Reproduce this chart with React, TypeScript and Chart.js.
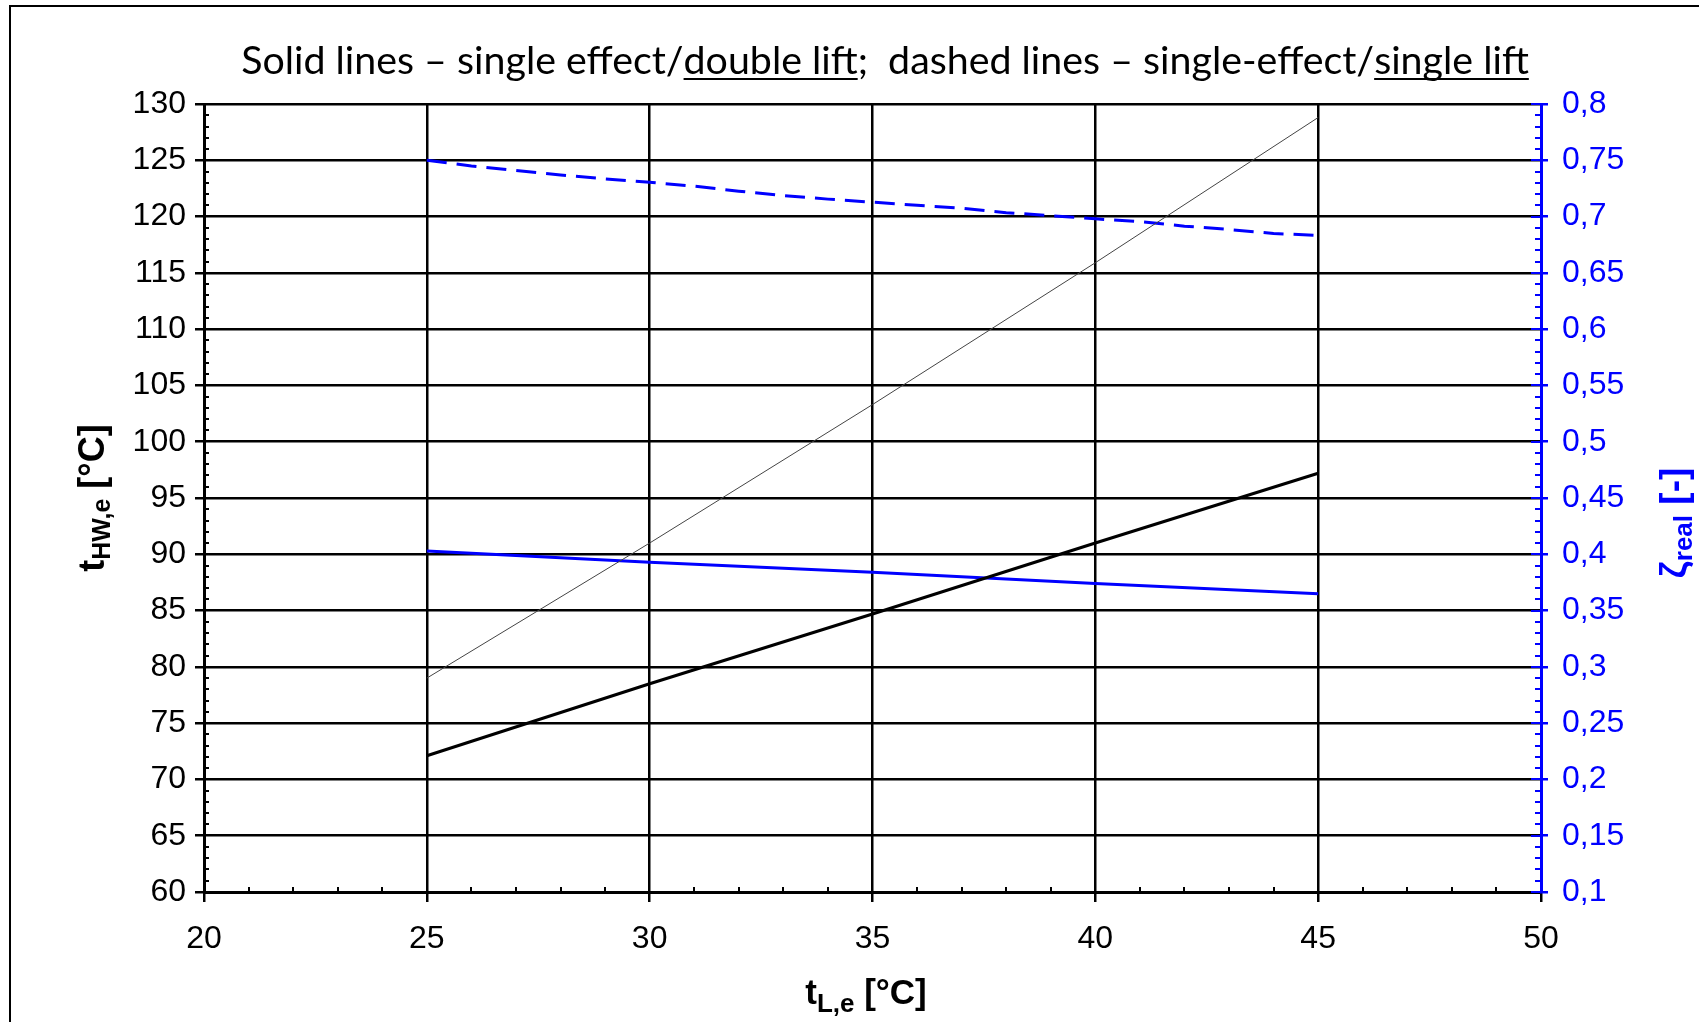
import React, { useEffect, useRef } from "react";
import { Chart, registerables } from "chart.js";

Chart.register(...registerables);

const BLUE = "#0000ff";
const TICK_FONT = "'Liberation Sans', Arial, sans-serif";

// Axis ranges / tick steps
const xAxisRange = [20, 50];
const xAxisStep = 5;
const tempAxisRange = [60, 130];
const tempAxisStep = 5;
const zetaAxisRange = [0.1, 0.8];
const zetaAxisStep = 0.05;

// Evaporator temperature t_L,e [°C]
const tLe = [25, 30, 35, 40, 45];
// Driving heat temperature t_HW,e [°C]
const tHWDoubleLift = [72.1, 78.5, 84.7, 91.0, 97.2];
const tHWSingleLift = [79.0, 91.0, 103.3, 115.9, 128.8];
// Real efficiency zeta_real [-]
const zetaDoubleLift = [0.403, 0.393, 0.384, 0.374, 0.365];
const tLeFine = [25, 26, 27, 28, 29, 30, 31, 32, 33, 34, 35, 36, 37, 38, 39, 40, 41, 42, 43, 44, 45];
const zetaSingleLift = [
  0.75, 0.745, 0.741, 0.737, 0.7335, 0.7305, 0.727, 0.7225, 0.7187, 0.7155, 0.7128,
  0.71, 0.7075, 0.7035, 0.7008, 0.698, 0.6955, 0.6915, 0.6885, 0.685, 0.6832,
];

// Title pieces: [text, underlined]
const titleParts: [string, boolean][] = [
  ["Solid lines \u2013 single effect/", false],
  ["double lift", true],
  [";  dashed lines \u2013 single-effect/", false],
  ["single lift", true],
];

type RichPart = { text: string; size: number; dy: number };
const leftAxisTitle: RichPart[] = [
  { text: "t", size: 36, dy: 0 },
  { text: "HW,e", size: 25, dy: 6 },
  { text: " [\u00b0C]", size: 36, dy: 0 },
];
const bottomAxisTitle: RichPart[] = [
  { text: "t", size: 35, dy: 0 },
  { text: "L,e", size: 26, dy: 8 },
  { text: " [\u00b0C]", size: 35, dy: 0 },
];
const rightAxisTitle: RichPart[] = [
  { text: "\u03b6", size: 37, dy: 0 },
  { text: "real", size: 26, dy: 6 },
  { text: " [-]", size: 37, dy: 0 },
];

function toPoints(xs: number[], ys: number[]) {
  return xs.map((x, i) => ({ x, y: ys[i] }));
}

function drawRich(
  ctx: CanvasRenderingContext2D,
  parts: RichPart[],
  color: string,
  cx: number,
  cy: number,
  rotated: boolean
) {
  ctx.save();
  ctx.fillStyle = color;
  ctx.textBaseline = "alphabetic";
  ctx.textAlign = "left";
  let total = 0;
  const widths = parts.map((p) => {
    ctx.font = `bold ${p.size}px ${TICK_FONT}`;
    const w = ctx.measureText(p.text).width;
    total += w;
    return w;
  });
  ctx.translate(cx, cy);
  if (rotated) ctx.rotate(-Math.PI / 2);
  let x = -total / 2;
  parts.forEach((p, i) => {
    ctx.font = `bold ${p.size}px ${TICK_FONT}`;
    ctx.fillText(p.text, x, p.dy);
    x += widths[i];
  });
  ctx.restore();
}

const decorPlugin = {
  id: "decor",
  afterDraw(chart: any) {
    const ctx: CanvasRenderingContext2D = chart.ctx;
    const xs = chart.scales.x;
    const ys = chart.scales.y;
    const y1 = chart.scales.y1;
    const area = chart.chartArea;
    ctx.save();
    // minor ticks, black axes (inside)
    ctx.strokeStyle = "#000";
    ctx.lineWidth = 2;
    ctx.beginPath();
    for (let v = xAxisRange[0] + 1; v < xAxisRange[1]; v++) {
      if (v % 5 === 0) continue;
      const px = Math.round(xs.getPixelForValue(v));
      ctx.moveTo(px, area.bottom);
      ctx.lineTo(px, area.bottom - 5);
    }
    for (let v = tempAxisRange[0] + 1; v < tempAxisRange[1]; v++) {
      if (v % 5 === 0) continue;
      const py = Math.round(ys.getPixelForValue(v));
      ctx.moveTo(area.left, py);
      ctx.lineTo(area.left + 5, py);
    }
    ctx.stroke();
    // right axis minor ticks + inner part of major ticks
    ctx.strokeStyle = BLUE;
    ctx.beginPath();
    for (let i = 10; i <= 80; i++) {
      const py = Math.round(y1.getPixelForValue(i / 100));
      const len = i % 5 === 0 ? 10 : 6;
      ctx.moveTo(area.right - len, py);
      ctx.lineTo(area.right, py);
    }
    ctx.stroke();

    // chart title with underlined parts
    const targetWidth = 1288;
    const family = "Lato, 'Open Sans', sans-serif";
    ctx.font = `40px ${family}`;
    const w0 = titleParts.reduce((s, p) => s + ctx.measureText(p[0]).width, 0);
    const size = (40 * targetWidth) / w0;
    ctx.font = `${size}px ${family}`;
    const widths = titleParts.map((p) => ctx.measureText(p[0]).width);
    const total = widths.reduce((a, b) => a + b, 0);
    const cx = 885;
    const baseline = 74;
    let x = cx - total / 2;
    ctx.fillStyle = "#000";
    ctx.textBaseline = "alphabetic";
    ctx.textAlign = "left";
    titleParts.forEach((p, i) => {
      ctx.fillText(p[0], x, baseline);
      if (p[1]) ctx.fillRect(x, baseline + 4, widths[i], 2);
      x += widths[i];
    });

    // axis titles
    const midY = (area.top + area.bottom) / 2;
    drawRich(ctx, leftAxisTitle, "#000", 104, midY, true);
    drawRich(ctx, bottomAxisTitle, "#000", 866, 1004, false);
    drawRich(ctx, rightAxisTitle, BLUE, 1686, midY + 25, true);
    ctx.restore();
  },
};

export default function App() {
  const ref = useRef<HTMLCanvasElement>(null);
  useEffect(() => {
    const canvas = ref.current;
    if (!canvas) return;
    const chart = new Chart(canvas, {
      type: "line",
      data: {
        datasets: [
          {
            label: "t_HW,e double lift",
            data: toPoints(tLe, tHWDoubleLift),
            borderColor: "#000",
            borderWidth: 3,
            pointRadius: 0,
            yAxisID: "y",
          },
          {
            label: "t_HW,e single lift",
            data: toPoints(tLe, tHWSingleLift),
            borderColor: "#444",
            borderWidth: 1,
            pointRadius: 0,
            yAxisID: "y",
          },
          {
            label: "zeta double lift",
            data: toPoints(tLe, zetaDoubleLift),
            borderColor: BLUE,
            borderWidth: 3,
            pointRadius: 0,
            yAxisID: "y1",
          },
          {
            label: "zeta single lift",
            data: toPoints(tLeFine, zetaSingleLift),
            borderColor: BLUE,
            borderWidth: 3,
            borderDash: [20, 10],
            pointRadius: 0,
            yAxisID: "y1",
          },
        ],
      },
      options: {
        animation: false,
        responsive: false,
        devicePixelRatio: 1,
        layout: { padding: { top: 104, left: 0, right: 0, bottom: 0 } },
        plugins: { legend: { display: false }, title: { display: false }, tooltip: { enabled: false } },
        scales: {
          x: {
            type: "linear",
            min: xAxisRange[0],
            max: xAxisRange[1],
            ticks: {
              stepSize: xAxisStep,
              color: "#000",
              font: { family: TICK_FONT, size: 32 },
              padding: 18,
              maxRotation: 0,
            },
            grid: {
              color: (c: any) => (c.tick && c.tick.value === xAxisRange[1] ? "rgba(0,0,0,0)" : "#000"),
              lineWidth: 2.5,
              tickLength: 10,
              tickColor: "#000",
              tickWidth: 2.5,
            },
            border: { color: "#000", width: 3 },
            afterFit: (s: any) => {
              s.height = 130;
            },
          },
          y: {
            position: "left",
            min: tempAxisRange[0],
            max: tempAxisRange[1],
            ticks: {
              stepSize: tempAxisStep,
              color: "#000",
              font: { family: TICK_FONT, size: 32 },
              padding: 9,
            },
            grid: { color: "#000", lineWidth: 2.5, tickLength: 9 },
            border: { color: "#000", width: 3 },
            afterFit: (s: any) => {
              s.width = 204;
            },
          },
          y1: {
            position: "right",
            min: zetaAxisRange[0],
            max: zetaAxisRange[1],
            ticks: {
              stepSize: zetaAxisStep,
              color: BLUE,
              font: { family: TICK_FONT, size: 32 },
              padding: 14,
              callback: (v: any) => String(Math.round(Number(v) * 100) / 100).replace(".", ","),
            },
            grid: { drawOnChartArea: false, color: BLUE, lineWidth: 2.5, tickLength: 7 },
            border: { color: BLUE, width: 3 },
            afterFit: (s: any) => {
              s.width = 158;
            },
          },
        },
      },
      plugins: [decorPlugin],
    });
    return () => chart.destroy();
  }, []);

  return (
    <div
      style={{
        position: "fixed",
        left: 0,
        top: 0,
        width: 1699,
        height: 1022,
        background: "#fff",
        overflow: "hidden",
      }}
    >
      <div
        style={{
          position: "absolute",
          left: 9,
          top: 5,
          right: 0,
          bottom: 0,
          borderLeft: "2px solid #000",
          borderTop: "2px solid #000",
        }}
      />
      <canvas
        ref={ref}
        width={1699}
        height={1022}
        style={{ position: "absolute", left: 0, top: 0, width: 1699, height: 1022 }}
      />
    </div>
  );
}
